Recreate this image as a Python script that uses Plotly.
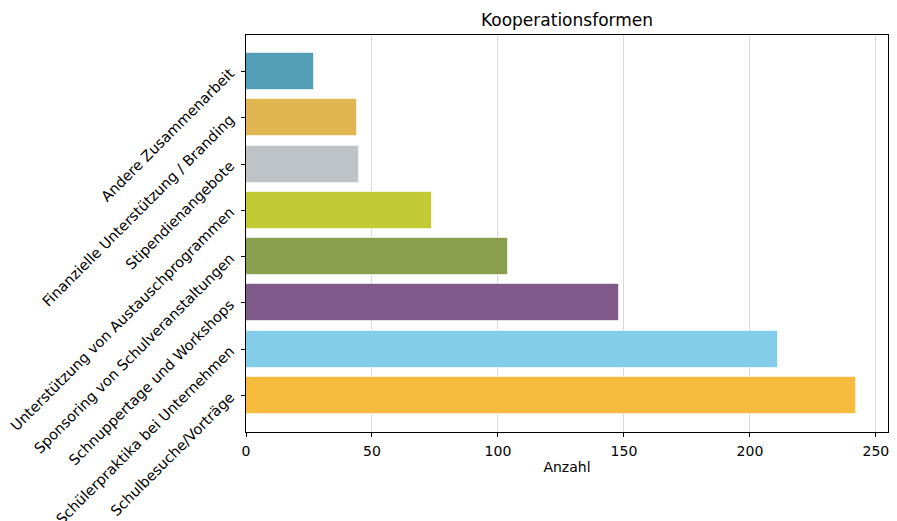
import plotly.graph_objects as go

categories = [
    "Schulbesuche/Vorträge",
    "Schülerpraktika bei Unternehmen",
    "Schnuppertage und Workshops",
    "Sponsoring von Schulveranstaltungen",
    "Unterstützung von Austauschprogrammen",
    "Stipendienangebote",
    "Finanzielle Unterstützung / Branding",
    "Andere Zusammenarbeit",
]
values = [242, 211, 148, 104, 74, 45, 44, 27]
colors = ["#F7BB3E", "#83CDEB", "#7F5A8A", "#8A9F4D",
          "#C2CB33", "#BDC3C6", "#E1B550", "#519EB6"]
x_ticks = [0, 50, 100, 150, 200, 250]

fig = go.Figure(go.Bar(
    x=values, y=categories, orientation="h",
    marker=dict(color=colors, line=dict(color="rgba(255,255,255,0.6)", width=1)),
    width=0.8, hoverinfo="skip",
))

font = "DejaVu Sans"
fig.update_layout(
    width=897, height=521,
    margin=dict(l=246, r=9, t=35, b=89, autoexpand=False),
    paper_bgcolor="white", plot_bgcolor="white",
    font=dict(family=font, size=14, color="black"),
    title=dict(text="Kooperationsformen", x=(246 + 888) / 2 / 897, xanchor="center",
               y=1 - 20 / 521, yanchor="middle", font=dict(size=17, family=font)),
    showlegend=False,
    bargap=0,
)
fig.update_xaxes(
    range=[0, 254.8], tickvals=x_ticks, ticks="outside", ticklen=4, tickcolor="black",
    showgrid=True, gridcolor="#d9d9d9", gridwidth=1, zeroline=False,
    showline=True, linecolor="black", linewidth=1, mirror=True, automargin=False,
    ticklabelstandoff=2,
    title=dict(text="Anzahl", font=dict(size=14), standoff=4),
)
fig.update_yaxes(
    categoryorder="array", categoryarray=categories, range=[-0.79, 7.79],
    ticks="outside", ticklen=4, tickcolor="black", tickangle=-45,
    tickfont=dict(size=14.5),
    showgrid=False, zeroline=False, automargin=False, ticklabelstandoff=8,
    showline=True, linecolor="black", linewidth=1, mirror=True,
)

fig.write_html("out.html", config={"displayModeBar": False},
               post_script="document.body.style.margin='0';document.body.style.overflow='hidden';")
